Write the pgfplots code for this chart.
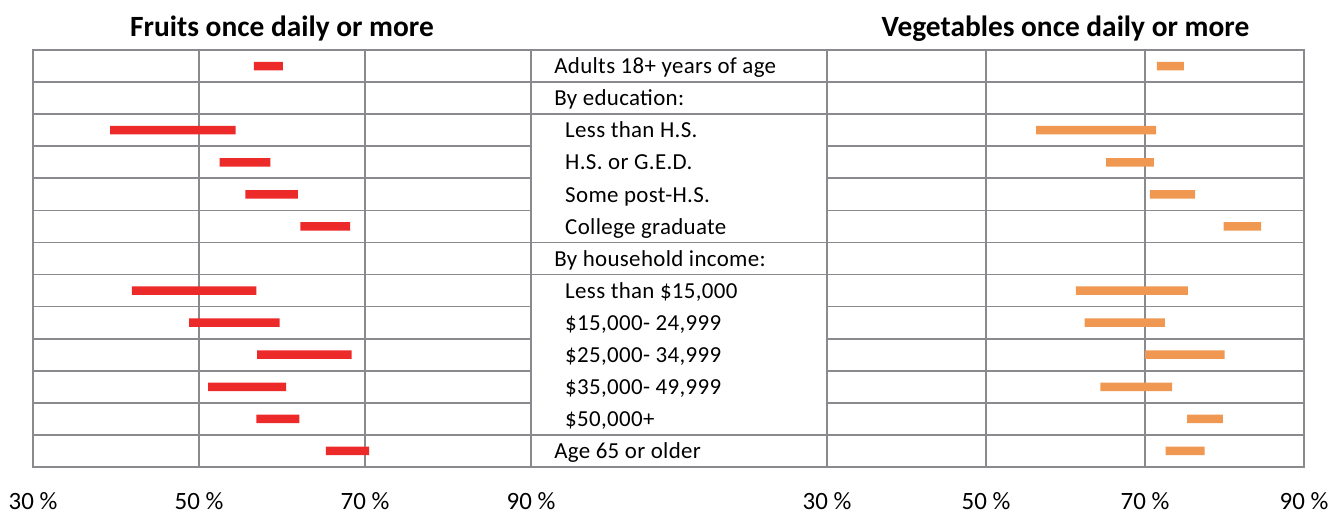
\documentclass[border=0pt]{standalone}
\usepackage{pgfplots}
\pgfplotsset{compat=1.18}
\usepackage{pgfplotstable}
\usepackage{fontspec}
\setmainfont{Carlito}
\definecolor{gridc}{RGB}{138,138,142}
\definecolor{fruitred}{RGB}{237,42,42}
\definecolor{vegorange}{RGB}{240,152,82}

\pgfplotstableread{
y lo hi
1 56.6 60.1
3 39.3 54.4
4 52.5 58.6
5 55.6 61.9
6 62.2 68.2
8 41.9 56.9
9 48.8 59.7
10 57.0 68.4
11 51.1 60.5
12 56.9 62.1
13 65.3 70.5
}\fruits

\pgfplotstableread{
y lo hi
1 71.5 74.9
3 56.3 71.4
4 65.1 71.1
5 70.6 76.3
6 79.9 84.6
8 61.3 75.4
9 62.4 72.5
10 70.0 80.0
11 64.4 73.4
12 75.3 79.8
13 72.6 77.5
}\vegs

\newcommand\labfont{\fontsize{23}{27}\selectfont\addfontfeatures{LetterSpace=1.5}}
\pgfplotsset{
  frame/.style={
    scale only axis, y dir=reverse, ymin=0.5, ymax=13.5, height=417bp,
    grid style={gridc, line width=1.7bp},
    axis line style={gridc, line width=1.7bp},
    major tick length=0pt, tick style={draw=none},
  },
  panel/.style={
    frame,
    xmin=30, xmax=90,
    xtick={30,50,70,90}, xticklabels={30 \%,50 \%,70 \%,90 \%},
    ytick={0.5,1.5,...,13.5}, yticklabels={},
    xmajorgrids, ymajorgrids,
    xticklabel style={font=\fontsize{25}{29}\selectfont, anchor=center, yshift=-34bp},
    xbar stacked, bar width=8.5bp,
    title style={at={(0.5,1)}, anchor=base, yshift=8bp, font=\fontsize{29.5}{33}\selectfont\bfseries},
  },
}

\begin{document}
\begin{tikzpicture}
\path[use as bounding box] (0,0) rectangle (1343bp,-514bp);

% Left panel: fruits
\begin{axis}[panel, at={(33bp,-50bp)}, anchor=north west, width=498bp,
  title={Fruits once daily or more}]
\addplot[draw=none, fill=none] table[x=lo, y=y] {\fruits};
\addplot[draw=none, fill=fruitred] table[x expr=\thisrow{hi}-\thisrow{lo}, y=y] {\fruits};
\end{axis}

% Middle label column
\begin{axis}[frame, at={(531bp,-50bp)}, anchor=north west, width=296bp,
  xmin=0, xmax=1, xtick=\empty,
  ytick={1.5,2.5,6.5,7.5,12.5}, yticklabels={}, ymajorgrids]
\tikzset{lab/.style={anchor=base west, inner sep=0pt, font=\labfont}}
\node[lab] at (axis cs:0.078,1.24) {Adults 18+ years of age};
\node[lab] at (axis cs:0.078,2.24) {By education:};
\node[lab] at (axis cs:0.115,3.24) {Less than H.S.};
\node[lab] at (axis cs:0.115,4.24) {H.S. or G.E.D.};
\node[lab] at (axis cs:0.115,5.24) {Some post-H.S.};
\node[lab] at (axis cs:0.115,6.24) {College graduate};
\node[lab] at (axis cs:0.078,7.24) {By household income:};
\node[lab] at (axis cs:0.115,8.24) {Less than \$15,000};
\node[lab] at (axis cs:0.115,9.24) {\$15,000- 24,999};
\node[lab] at (axis cs:0.115,10.24) {\$25,000- 34,999};
\node[lab] at (axis cs:0.115,11.24) {\$35,000- 49,999};
\node[lab] at (axis cs:0.115,12.24) {\$50,000+};
\node[lab] at (axis cs:0.078,13.24) {Age 65 or older};
\end{axis}

% Right panel: vegetables
\begin{axis}[panel, at={(827bp,-50bp)}, anchor=north west, width=477bp,
  title={Vegetables once daily or more}]
\addplot[draw=none, fill=none] table[x=lo, y=y] {\vegs};
\addplot[draw=none, fill=vegorange] table[x expr=\thisrow{hi}-\thisrow{lo}, y=y] {\vegs};
\end{axis}
\end{tikzpicture}
\end{document}
